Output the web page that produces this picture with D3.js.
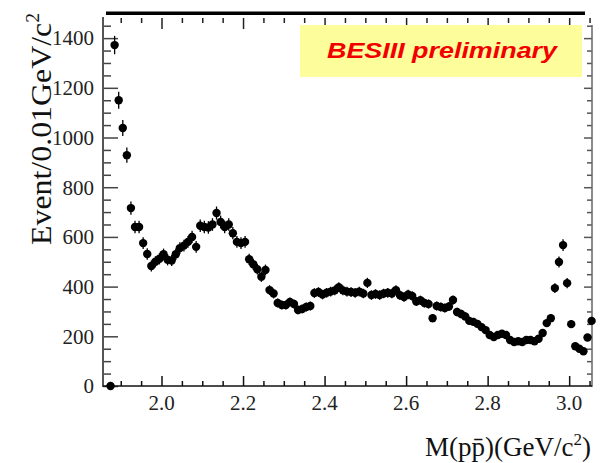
<!DOCTYPE html>
<html>
<head>
<meta charset="utf-8">
<script src="https://cdn.jsdelivr.net/npm/d3@7"></script>
<style>
  html, body { margin: 0; padding: 0; background: #fff; }
  svg { display: block; }
</style>
</head>
<body>
<svg id="chart" width="601" height="463"></svg>
<script>
// p-pbar invariant mass spectrum, 0.01 GeV/c^2 bins (bin centres, GeV/c^2)
const massBins = [
  1.875, 1.885, 1.895, 1.905, 1.915, 1.925, 1.935, 1.945, 1.955, 1.965,
  1.975, 1.985, 1.995, 2.005, 2.015, 2.025, 2.035, 2.045, 2.055, 2.065,
  2.075, 2.085, 2.095, 2.105, 2.115, 2.125, 2.135, 2.145, 2.155, 2.165,
  2.175, 2.185, 2.195, 2.205, 2.215, 2.225, 2.235, 2.245, 2.255, 2.265,
  2.275, 2.285, 2.295, 2.305, 2.315, 2.325, 2.335, 2.345, 2.355, 2.365,
  2.375, 2.385, 2.395, 2.405, 2.415, 2.425, 2.435, 2.445, 2.455, 2.465,
  2.475, 2.485, 2.495, 2.505, 2.515, 2.525, 2.535, 2.545, 2.555, 2.565,
  2.575, 2.585, 2.595, 2.605, 2.615, 2.625, 2.635, 2.645, 2.655, 2.665,
  2.675, 2.685, 2.695, 2.705, 2.715, 2.725, 2.735, 2.745, 2.755, 2.765,
  2.775, 2.785, 2.795, 2.805, 2.815, 2.825, 2.835, 2.845, 2.855, 2.865,
  2.875, 2.885, 2.895, 2.905, 2.915, 2.925, 2.935, 2.945, 2.955, 2.965,
  2.975, 2.985, 2.995, 3.005, 3.015, 3.025, 3.035, 3.045, 3.055
];

// events per bin
const eventCounts = [
  0, 1372, 1150, 1038, 929, 716, 640, 640, 575, 531,
  483, 500, 512, 530, 508, 505, 530, 555, 565, 580,
  600, 560, 645, 640, 638, 650, 696, 660, 640, 650,
  615, 580, 575, 580, 510, 490, 470, 440, 467, 386,
  372, 334, 326, 326, 338, 330, 306, 310, 318, 322,
  374, 378, 368, 375, 380, 385, 398, 385, 380, 378,
  375, 380, 372, 415, 366, 370, 366, 372, 375, 372,
  386, 365, 358, 368, 362, 340, 345, 334, 330, 273,
  322, 318, 314, 320, 346, 298, 290, 280, 262, 258,
  250, 237, 225, 205, 197, 205, 210, 205, 185, 177,
  180, 177, 185, 185, 180, 190, 213, 253, 273, 394,
  499, 567, 414, 249, 160, 150, 140, 195, 262
];

const xTickValues = [2.0, 2.2, 2.4, 2.6, 2.8, 3.0];
const xTickLabels = ["2.0", "2.2", "2.4", "2.6", "2.8", "3.0"];
const yTickValues = [0, 200, 400, 600, 800, 1000, 1200, 1400];
const yTickLabels = ["0", "200", "400", "600", "800", "1000", "1200", "1400"];

const xTitle = "M(pp\u0304)(GeV/c";
const yTitle = "Event/0.01GeV/c";
const bannerText = "BESIII preliminary";

const svg = d3.select("#chart");
const serif = "Liberation Serif";

const frame = { left: 103, right: 592, top: 17, bottom: 386 };

const x = d3.scaleLinear().domain([1.8565, 3.056]).range([frame.left, frame.right]);
const y = d3.scaleLinear().domain([0, 1485]).range([frame.bottom, frame.top]);

const xMinor = d3.range(1.9, 3.051, 0.05).filter(v => !xTickValues.some(t => Math.abs(t - v) < 1e-6));
const yMinor = d3.range(50, 1451, 50).filter(v => v % 200 !== 0);

// thick rule above the frame
svg.append("line")
  .attr("x1", 106).attr("x2", 585)
  .attr("y1", 13.3).attr("y2", 13.3)
  .attr("stroke", "#000").attr("stroke-width", 3.5);

function tickAxis(axis, values, size, tx, ty, color) {
  const g = svg.append("g").attr("transform", `translate(${tx},${ty})`)
    .call(axis.tickValues(values).tickSize(size).tickFormat(""));
  g.select(".domain").remove();
  g.selectAll(".tick text").remove();
  g.selectAll(".tick line").attr("stroke", color).attr("stroke-width", 1.5);
}

// tick marks on all four sides, pointing inward
tickAxis(d3.axisLeft(y), yMinor, -8, frame.left, 0, "#444");
tickAxis(d3.axisLeft(y), yTickValues, -15, frame.left, 0, "#444");
tickAxis(d3.axisRight(y), yMinor, -5, frame.right, 0, "#555");
tickAxis(d3.axisRight(y), yTickValues.slice(1), -8, frame.right, 0, "#555");
tickAxis(d3.axisBottom(x), xMinor, -5, 0, frame.bottom, "#111");
tickAxis(d3.axisBottom(x), xTickValues, -10, 0, frame.bottom, "#111");
tickAxis(d3.axisTop(x), xMinor, -5, 0, frame.top + 1, "#222");
tickAxis(d3.axisTop(x), xTickValues, -11, 0, frame.top + 1, "#222");

// tick labels
svg.append("g").selectAll("text")
  .data(yTickValues)
  .join("text")
  .attr("x", frame.left - 9)
  .attr("y", d => y(d))
  .attr("dy", "0.35em")
  .attr("text-anchor", "end")
  .attr("font-family", serif).attr("font-size", 21).attr("fill", "#222")
  .text((d, i) => yTickLabels[i]);
svg.append("g").selectAll("text")
  .data(xTickValues)
  .join("text")
  .attr("x", d => x(d))
  .attr("y", 410)
  .attr("text-anchor", "middle")
  .attr("font-family", serif).attr("font-size", 21).attr("fill", "#222")
  .text((d, i) => xTickLabels[i]);

// frame lines
svg.append("line")
  .attr("x1", frame.left).attr("x2", frame.left)
  .attr("y1", frame.top).attr("y2", frame.bottom + 1)
  .attr("stroke", "#555").attr("stroke-width", 2);
svg.append("line")
  .attr("x1", frame.right).attr("x2", frame.right)
  .attr("y1", frame.top + 8).attr("y2", frame.bottom + 1)
  .attr("stroke", "#666").attr("stroke-width", 1.5);
svg.append("line")
  .attr("x1", frame.left).attr("x2", frame.right)
  .attr("y1", frame.bottom).attr("y2", frame.bottom)
  .attr("stroke", "#111").attr("stroke-width", 1.6);

// data points with statistical error bars
const points = massBins.map((m, i) => ({ m, n: eventCounts[i] }));
const marks = svg.append("g");
marks.selectAll("line.err")
  .data(points.filter(d => d.n > 0))
  .join("line")
  .attr("class", "err")
  .attr("x1", d => x(d.m)).attr("x2", d => x(d.m))
  .attr("y1", d => y(d.n + Math.sqrt(d.n)))
  .attr("y2", d => y(d.n - Math.sqrt(d.n)))
  .attr("stroke", "#000").attr("stroke-width", 1.3);
marks.selectAll("circle")
  .data(points)
  .join("circle")
  .attr("cx", d => x(d.m))
  .attr("cy", d => y(d.n))
  .attr("r", 4.2)
  .attr("fill", "#000");

// label banner
svg.append("rect")
  .attr("x", 300).attr("y", 25).attr("width", 282).attr("height", 52)
  .attr("fill", "#fdfd9b");
svg.append("text")
  .attr("x", 442).attr("y", 58)
  .attr("text-anchor", "middle")
  .attr("font-family", "Liberation Sans")
  .attr("font-size", 22).attr("font-weight", "bold").attr("font-style", "italic")
  .attr("fill", "#f20000")
  .attr("textLength", 230).attr("lengthAdjust", "spacingAndGlyphs")
  .text(bannerText);

// x-axis title
const xt = svg.append("text")
  .attr("x", 591).attr("y", 456)
  .attr("text-anchor", "end")
  .attr("font-family", serif).attr("font-size", 27).attr("fill", "#111");
xt.append("tspan").text(xTitle);
xt.append("tspan").attr("dy", -11).attr("font-size", 17).text("2");
xt.append("tspan").attr("dy", 11).text(")");

// y-axis title
const yt = svg.append("text")
  .attr("transform", "translate(51,245) rotate(-90) scale(1.1,1)")
  .attr("font-family", serif).attr("font-size", 29).attr("fill", "#111");
yt.append("tspan").text(yTitle);
yt.append("tspan").attr("dy", -12).attr("font-size", 18).text("2");
</script>
</body>
</html>
